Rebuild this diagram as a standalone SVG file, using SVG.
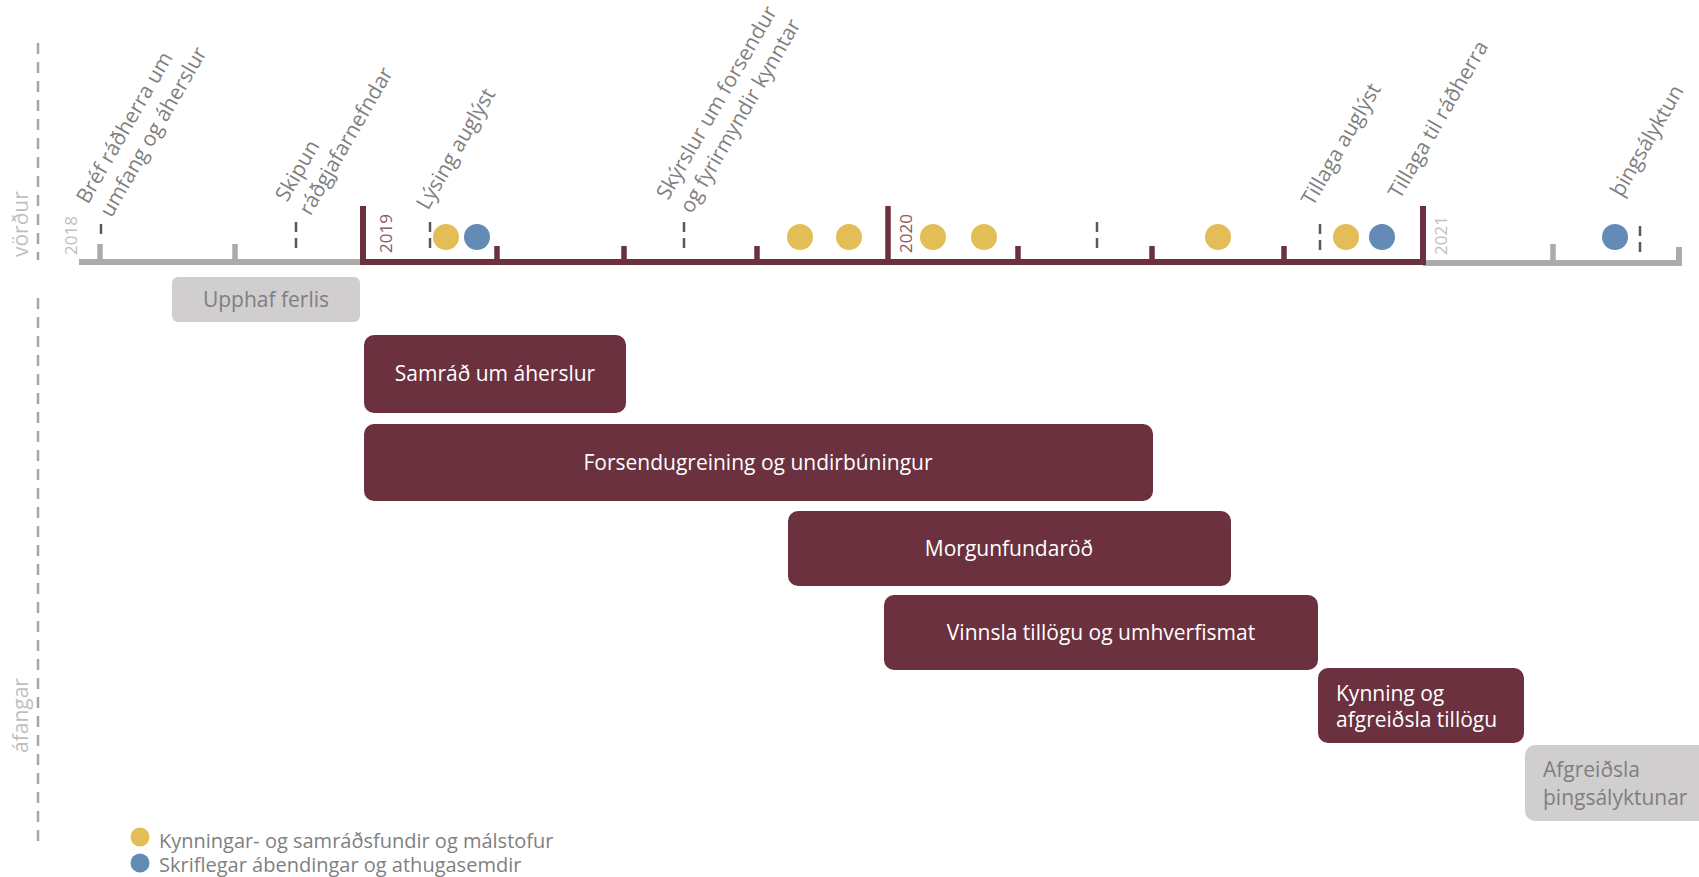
<svg xmlns="http://www.w3.org/2000/svg" width="1699" height="877" viewBox="0 0 1699 877">
<style>
text{font-family:"Open Sans","Noto Sans","Liberation Sans",sans-serif}
.lbl{font-size:21px;fill:#7f7f7f}
.side{font-size:21px;fill:#bfbfbf}
.yr{font-size:17px}
.box{fill:#6b313f}
.gbox{fill:#d0cece}
.bt{font-size:21px;fill:#ffffff}
.gt{font-size:21px;fill:#7f7f7f}
.dash{stroke:#595959;stroke-width:2.5;stroke-dasharray:10 6;fill:none}
.tk{stroke-width:5.5;fill:none}
.y{fill:#e3bd55}
.b{fill:#648ab6}
.leg{font-size:20px;fill:#7f7f7f}
</style>
<rect width="1699" height="877" fill="#ffffff"/>
<g id="side-labels">
<line x1="38" y1="43" x2="38" y2="260" stroke="#a6a6a6" stroke-width="2.5" stroke-dasharray="11 8"/>
<line x1="38" y1="298" x2="38" y2="845" stroke="#a6a6a6" stroke-width="2.5" stroke-dasharray="11 8"/>
<text class="side" transform="translate(28,257) rotate(-90)">vörður</text>
<text class="side" transform="translate(28,753) rotate(-90)">áfangar</text>
</g>
<g id="connectors">
<path d="M79,262 H363" stroke="#aeaaaa" stroke-width="6" fill="none"/>
<path d="M1423,263 H1679 V247" stroke="#aeaaaa" stroke-width="6" fill="none"/>
<path d="M363,206 V262 H1423 V206" stroke="#6b313f" stroke-width="6" fill="none"/>
<line class="tk" x1="888" y1="206" x2="888" y2="262" stroke="#6b313f"/>
<g stroke="#aeaaaa" class="tk">
<line x1="100" y1="244" x2="100" y2="262"/>
<line x1="235" y1="244" x2="235" y2="262"/>
<line x1="1553" y1="244" x2="1553" y2="262"/>
</g>
<g stroke="#6b313f" class="tk">
<line x1="497" y1="246" x2="497" y2="262"/>
<line x1="624" y1="246" x2="624" y2="262"/>
<line x1="757" y1="246" x2="757" y2="262"/>
<line x1="1018" y1="246" x2="1018" y2="262"/>
<line x1="1152" y1="246" x2="1152" y2="262"/>
<line x1="1284" y1="246" x2="1284" y2="262"/>
</g>
<g class="dash">
<line x1="101" y1="224" x2="101" y2="240"/>
<line x1="296" y1="222" x2="296" y2="254"/>
<line x1="430" y1="222" x2="430" y2="254"/>
<line x1="684" y1="222" x2="684" y2="254"/>
<line x1="1097" y1="222" x2="1097" y2="254"/>
<line x1="1320" y1="224" x2="1320" y2="256"/>
<line x1="1640" y1="226" x2="1640" y2="258"/>
</g>
</g>
<g id="years">
<text class="yr" fill="#c0c0c0" transform="translate(77,255) rotate(-90)">2018</text>
<text class="yr" fill="#8c5a68" transform="translate(392,253) rotate(-90)">2019</text>
<text class="yr" fill="#8c5a68" transform="translate(912,253) rotate(-90)">2020</text>
<text class="yr" fill="#c0c0c0" transform="translate(1447,255) rotate(-90)">2021</text>
</g>
<g id="events">
<circle class="y" cx="446" cy="237" r="13"/>
<circle class="b" cx="477" cy="237" r="13"/>
<circle class="y" cx="800" cy="237" r="13"/>
<circle class="y" cx="849" cy="237" r="13"/>
<circle class="y" cx="933" cy="237" r="13"/>
<circle class="y" cx="984" cy="237" r="13"/>
<circle class="y" cx="1218" cy="237" r="13"/>
<circle class="y" cx="1346" cy="237" r="13"/>
<circle class="b" cx="1382" cy="237" r="13"/>
<circle class="b" cx="1615" cy="237" r="13"/>
</g>
<g id="milestones">
<text class="lbl" transform="translate(88,205) rotate(-60)"><tspan x="0" y="0">Bréf ráðherra um</tspan><tspan x="0" y="27">umfang og áherslur</tspan></text>
<text class="lbl" transform="translate(287,203) rotate(-60)"><tspan x="0" y="0">Skipun</tspan><tspan x="0" y="27">ráðgjafarnefndar</tspan></text>
<text class="lbl" transform="translate(428,211) rotate(-60)">Lýsing auglýst</text>
<text class="lbl" transform="translate(668,201) rotate(-60)"><tspan x="0" y="0">Skýrslur um forsendur</tspan><tspan x="0" y="27">og fyrirmyndir kynntar</tspan></text>
<text class="lbl" transform="translate(1313,207) rotate(-60)">Tillaga auglýst</text>
<text class="lbl" transform="translate(1400,200) rotate(-60)">Tillaga til ráðherra</text>
<text class="lbl" transform="translate(1622,198) rotate(-60)">þingsályktun</text>
</g>
<g id="upphaf">
<rect class="gbox" x="172" y="277" width="188" height="45" rx="6"/>
<text class="gt" x="266" y="307" text-anchor="middle">Upphaf ferlis</text>
</g>
<g id="samrad">
<rect class="box" x="364" y="335" width="262" height="78" rx="10"/>
<text class="bt" x="495" y="381" text-anchor="middle">Samráð um áherslur</text>
</g>
<g id="forsendugreining">
<rect class="box" x="364" y="424" width="789" height="77" rx="10"/>
<text class="bt" x="758" y="470" text-anchor="middle">Forsendugreining og undirbúningur</text>
</g>
<g id="morgunfundarod">
<rect class="box" x="788" y="511" width="443" height="75" rx="10"/>
<text class="bt" x="1009" y="556" text-anchor="middle">Morgunfundaröð</text>
</g>
<g id="vinnsla">
<rect class="box" x="884" y="595" width="434" height="75" rx="10"/>
<text class="bt" x="1101" y="640" text-anchor="middle">Vinnsla tillögu og umhverfismat</text>
</g>
<g id="kynning">
<rect class="box" x="1318" y="668" width="206" height="75" rx="10"/>
<text class="bt"><tspan x="1336" y="701">Kynning og</tspan><tspan x="1336" y="727">afgreiðsla tillögu</tspan></text>
</g>
<g id="afgreidsla">
<rect class="gbox" x="1525" y="745" width="200" height="76" rx="10"/>
<text class="gt"><tspan x="1543" y="777">Afgreiðsla</tspan><tspan x="1543" y="805">þingsályktunar</tspan></text>
</g>
<g id="legend">
<circle class="y" cx="140" cy="837" r="9.5"/>
<text class="leg" x="159" y="848">Kynningar- og samráðsfundir og málstofur</text>
<circle class="b" cx="140" cy="863" r="9.5"/>
<text class="leg" x="159" y="872">Skriflegar ábendingar og athugasemdir</text>
</g>
</svg>
